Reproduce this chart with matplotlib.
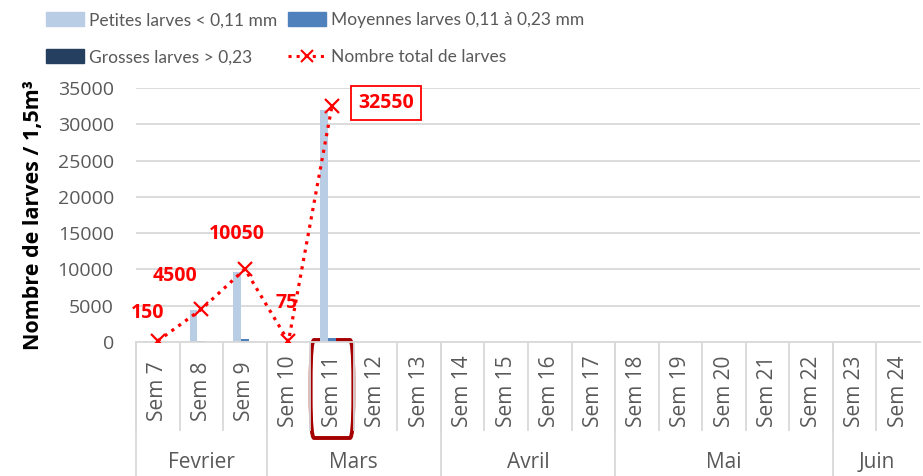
import numpy as np
import matplotlib.pyplot as plt
from matplotlib.patches import Patch, FancyBboxPatch
from matplotlib.lines import Line2D
import matplotlib.transforms as mtransforms

plt.rcParams['font.family'] = ['Open Sans', 'DejaVu Sans']

weeks = ['Sem %d' % i for i in range(7, 25)]
months = ['Fevrier', 'Mars', 'Avril', 'Mai', 'Juin']
month_len = [3, 4, 4, 5, 2]

petites = [150, 4400, 9650, 75, 31950] + [0] * 13
moyennes = [0, 100, 400, 0, 600] + [0] * 13
grosses = [0, 0, 0, 0, 0] + [0] * 13
total_x = [0, 1, 2, 3, 4]
total = [150, 4500, 10050, 75, 32550]

grey = '#595959'
fig = plt.figure(figsize=(9.23, 4.76), dpi=100)
W, H = 923, 476
ax = fig.add_axes([136 / W, 1 - 342 / H, (920 - 136) / W, (342 - 88) / H])

x = np.arange(len(weeks))
bw = 0.18
ax.bar(x - bw, petites, bw, color='#b9cde5', zorder=2)
ax.bar(x, moyennes, bw, color='#4f81bd', zorder=2)
ax.bar(x + bw, grosses, bw, color='#243f60', zorder=2)
ax.plot(total_x, total, ls=':', color='#ff0000', lw=2.3, marker='x', ms=10,
        mew=1.6, zorder=3)

ax.set_xlim(-0.5, len(weeks) - 0.5)
ax.set_ylim(0, 35000)
ax.set_yticks(np.arange(0, 35001, 5000))
ax.yaxis.grid(True, color='#d9d9d9', lw=1.3, zorder=0)
ax.set_axisbelow(True)
ax.tick_params(axis='y', length=0, labelsize=14, colors=grey, pad=16)
ax.set_xticks([])
for s in ['top', 'right', 'left']:
    ax.spines[s].set_visible(False)
ax.spines['bottom'].set_color('#d9d9d9')
ax.spines['bottom'].set_linewidth(1.3)
ax.set_ylabel('Nombre de larves / 1,5m³', fontsize=15.5, fontweight='bold',
              color='black', labelpad=10)

# data labels
offs = [(-7, 20), (-19, 24), (-6, 25), (-1, 28)]
for xi, v, o in zip(total_x[:4], total[:4], offs):
    ax.annotate(str(v), (xi, v), xytext=o, textcoords='offset points',
                ha='center', va='center', color='#ff0000', fontsize=14,
                fontweight='bold')
ax.annotate(str(total[4]), (total_x[4], total[4]), xytext=(39, 2),
            textcoords='offset points', ha='center', va='center',
            color='#ff0000', fontsize=14, fontweight='bold',
            bbox=dict(boxstyle='square,pad=0.35', fc='white', ec='#ff0000', lw=1.3))

# category axis
tr = mtransforms.blended_transform_factory(ax.transData, ax.transAxes)
y_week = -(430 - 342) / 254
y_month = -(476 - 342) / 254
for i, w in enumerate(weeks):
    ax.text(i, -(391 - 342) / 254, w, transform=tr, rotation=90, ha='center',
            va='center', fontsize=15, color=grey)
    ax.plot([i - 0.5, i - 0.5], [0, y_week], transform=tr, color='#d9d9d9',
            lw=1.3, clip_on=False)
start = 0
for m, n in zip(months, month_len):
    ax.plot([start - 0.5, start - 0.5], [0, y_month], transform=tr,
            color='#d9d9d9', lw=1.3, clip_on=False)
    ax.text(start + n / 2 - 0.5, -(462 - 342) / 254, m, transform=tr,
            ha='center', va='center', fontsize=15, color=grey)
    start += n

box = FancyBboxPatch((4 - 0.49, -(438 - 342) / 254), 0.98, (440 - 342) / 254,
                     boxstyle='round,pad=0,rounding_size=0.08', transform=tr,
                     fc='none', ec='#a50000', lw=2.8, clip_on=False,
                     mutation_aspect=2.0)
ax.add_patch(box)

# legend: two columns placed separately
prop = {'family': ['Lato', 'Open Sans'], 'size': 12.5}
leg_kw = dict(loc='upper left', frameon=False, prop=prop, labelcolor=grey,
              handlelength=2.2, handleheight=0.9, labelspacing=1.2,
              handletextpad=0.25, borderaxespad=0, borderpad=0)
h1 = [Patch(color='#b9cde5'), Patch(color='#243f60')]
l1 = ['Petites larves < 0,11 mm', 'Grosses larves > 0,23']
h2 = [Patch(color='#4f81bd'),
      Line2D([], [], ls=':', color='#ff0000', lw=2.2, marker='x', ms=9,
             mew=1.5)]
l2 = ['Moyennes larves 0,11 à 0,23 mm', 'Nombre total de larves']
leg1 = fig.legend(h1, l1, bbox_to_anchor=(46 / W, 1 - 12 / H), **leg_kw)
leg2 = fig.legend(h2, l2, bbox_to_anchor=(288 / W, 1 - 12 / H), **leg_kw)

fig.savefig('out.png', dpi=100)
